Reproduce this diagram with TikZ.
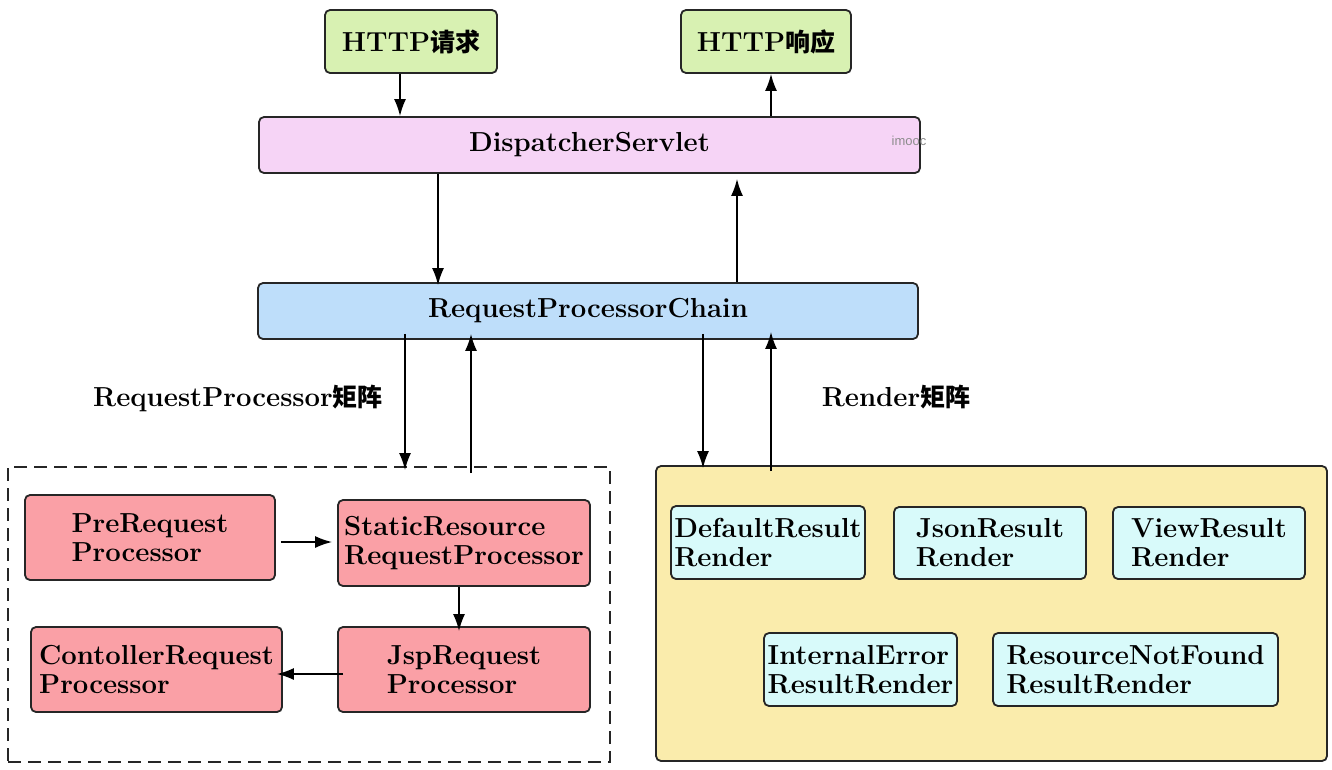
\documentclass[tikz,border=0pt]{standalone}
\usepackage{fontspec}
\newfontfamily\cjk{Noto Sans CJK SC}
\newfontfamily\wm{Liberation Sans}
\usetikzlibrary{arrows.meta}
\definecolor{cgreen}{RGB}{216,241,178}
\definecolor{cpurple}{RGB}{246,212,246}
\definecolor{cblue}{RGB}{190,222,250}
\definecolor{cred}{RGB}{250,160,166}
\definecolor{cyellow}{RGB}{250,236,172}
\definecolor{ccyan}{RGB}{216,250,250}
\tikzset{
  box/.style={draw=black!85, line width=1.8pt, rounded corners=5pt, inner sep=0pt,
    font=\fontsize{27.5}{29}\selectfont\bfseries, align=left},
  arr/.style={line width=1.7pt, -{Latex[length=17pt,width=12pt]}},
  lbl/.style={font=\fontsize{27.5}{29}\selectfont\bfseries, inner sep=0pt},
}
\newcommand{\cj}[1]{{\cjk\bfseries\fontsize{25}{29}\selectfont #1}}
\begin{document}
\begin{tikzpicture}[x=1pt,y=-1pt]
\useasboundingbox (0,0) rectangle (1332,769);
% top
\node[box, fill=cgreen, minimum width=172pt, minimum height=63pt] (req) at (411,41.5) {HTTP\cj{请求}};
\node[box, fill=cgreen, minimum width=170pt, minimum height=63pt] (resp) at (766,41.5) {HTTP\cj{响应}};
\node[box, fill=cpurple, minimum width=661pt, minimum height=56pt] (ds) at (589.5,145) {DispatcherServlet};
\node[font=\wm\fontsize{13}{13}\selectfont, text=black!45, inner sep=0pt] (wmk) at (909,141) {imooc};
\node[box, fill=cblue, minimum width=660pt, minimum height=56pt] (chain) at (588,311) {RequestProcessorChain};
% arrows top
\draw[arr] (req.south -| 400,0) -- (ds.north -| 400,0);
\draw[arr] (ds.north -| 771,0) -- (resp.south -| 771,0);
\draw[arr] (ds.south -| 438,0) -- ([yshift=-3pt]chain.north -| 438,0);
\draw[arr] (chain.north -| 737,0) -- ([yshift=-5pt]ds.south -| 737,0);
% labels
\node[lbl] (l1) at (238,398) {RequestProcessor\cj{矩阵}};
\node[lbl] (l2) at (896,397) {Render\cj{矩阵}};
% containers
\node[draw=black!85, line width=1.8pt, dash pattern=on 13pt off 7pt, minimum width=602pt, minimum height=295pt, inner sep=0pt] (dash) at (309,614.5) {};
\node[draw=black!85, line width=1.8pt, rounded corners=5pt, fill=cyellow, minimum width=671pt, minimum height=295pt, inner sep=0pt] (yel) at (991.5,613.5) {};
% chain arrows
\draw[arr] ([yshift=6pt]chain.south -| 405,0) -- ([yshift=-4pt]dash.north -| 405,0);
\draw[arr] ([yshift=-7pt]dash.north -| 471,0) -- ([yshift=6pt]chain.south -| 471,0);
\draw[arr] ([yshift=6pt]chain.south -| 703,0) -- ([yshift=-3pt]yel.north -| 703,0);
\draw[arr] ([yshift=-6pt]yel.north -| 771,0) -- ([yshift=8pt]chain.south -| 771,0);
% red boxes
\node[box, fill=cred, minimum width=250pt, minimum height=85pt] (pre) at (150,537.5) {PreRequest\\Processor};
\node[box, fill=cred, minimum width=252pt, minimum height=86pt] (stat) at (464,543) {StaticResource\\RequestProcessor};
\node[box, fill=cred, minimum width=251pt, minimum height=85pt] (ctrl) at (156.5,669.5) {ContollerRequest\\Processor};
\node[box, fill=cred, minimum width=252pt, minimum height=85pt] (jsp) at (464,669.5) {JspRequest\\Processor};
\draw[arr] ([xshift=5pt]pre.east |- 0,542) -- ([xshift=-5pt]stat.west |- 0,542);
\draw[arr] (stat.south -| 459,0) -- ([yshift=-5pt]jsp.north -| 459,0);
\draw[arr] ([xshift=6pt]jsp.west |- 0,674) -- ([xshift=-6pt]ctrl.east |- 0,674);
% cyan boxes
\node[box, fill=ccyan, minimum width=194pt, minimum height=73pt] (def) at (768,542.5) {DefaultResult\\Render};
\node[box, fill=ccyan, minimum width=192pt, minimum height=72pt] (json) at (990,543) {JsonResult\\Render};
\node[box, fill=ccyan, minimum width=192pt, minimum height=72pt] (view) at (1209,543) {ViewResult\\Render};
\node[box, fill=ccyan, minimum width=193pt, minimum height=73pt] (ie) at (860.5,669.5) {InternalError\\ResultRender};
\node[box, fill=ccyan, minimum width=285pt, minimum height=73pt] (rnf) at (1135.5,669.5) {ResourceNotFound\\ResultRender};
\end{tikzpicture}
\end{document}
